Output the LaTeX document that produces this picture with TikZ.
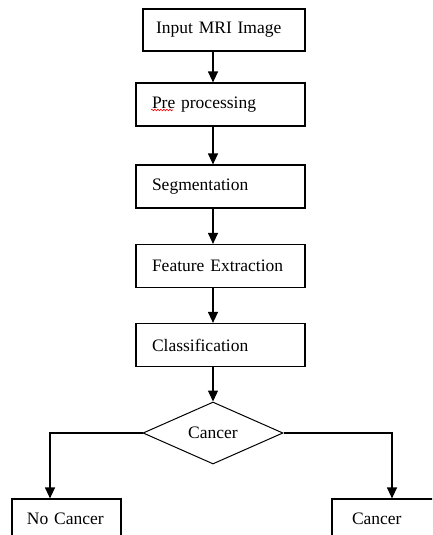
\documentclass[tikz,border=0pt]{standalone}
\usepackage{fontspec}
\setmainfont{Liberation Serif}
\usetikzlibrary{arrows.meta,shapes.geometric,decorations.pathmorphing}
\tikzset{bx/.style = {rectangle, draw, line width=1.2pt, inner ysep=0pt, inner xsep=16pt, text width=137pt,
                      minimum height=43pt, align=left, font=\fontsize{17.5}{20}\selectfont},
         dc/.style = {diamond, draw, line width=1pt, inner sep=0pt, minimum width=140pt, minimum height=62pt,
                      font=\fontsize{17.5}{20}\selectfont},
         ar/.style = {-{Triangle[width=10pt,length=11pt]}, line width=1.2pt}}

\begin{document}
\begin{tikzpicture}[x=1pt, y=-1pt]
    \useasboundingbox (0,0) rectangle (432,535);
    \clip (0,0) rectangle (432,535);
    \node[bx, inner xsep=13pt, text width=136pt, minimum height=42pt] (inp) at (224,30) {Input MRI Image};
    \node[bx] (pre) at (220.5,104.5) {Pre processing};
    \node[bx] (seg) at (220.5,186.5) {Segmentation};
    \node[bx] (fea) at (220.5,266) {Feature Extraction};
    \node[bx] (cls) at (220.5,345) {Classification};
    \node[dc] (dec) at (213,433) {Cancer};
    \node[bx, inner xsep=15pt, text width=79pt, minimum height=40pt] (no) at (66.5,519) {No Cancer};
    \node[bx, inner xsep=20pt, text width=69pt, minimum height=40pt] (yes) at (386.5,519) {Cancer};
    % spell check mark
    \draw[red, line width=0.6pt, decorate, decoration={snake, amplitude=0.8pt, segment length=3pt}] (151,110) -- (173,110);
    \draw[ar] (inp.south -| dec) -- (pre.north -| dec);
    \draw[ar] (pre.south -| dec) -- (seg.north -| dec);
    \draw[ar] (seg.south -| dec) -- (fea.north -| dec);
    \draw[ar] (fea.south -| dec) -- (cls.north -| dec);
    \draw[ar] (cls.south -| dec) -- (dec.north);
    \draw[ar] (dec.west) -| ([xshift=-16.5pt]no.north);
    \draw[ar] (dec.east) -| ([xshift=5.5pt]yes.north);
\end{tikzpicture}
\end{document}
